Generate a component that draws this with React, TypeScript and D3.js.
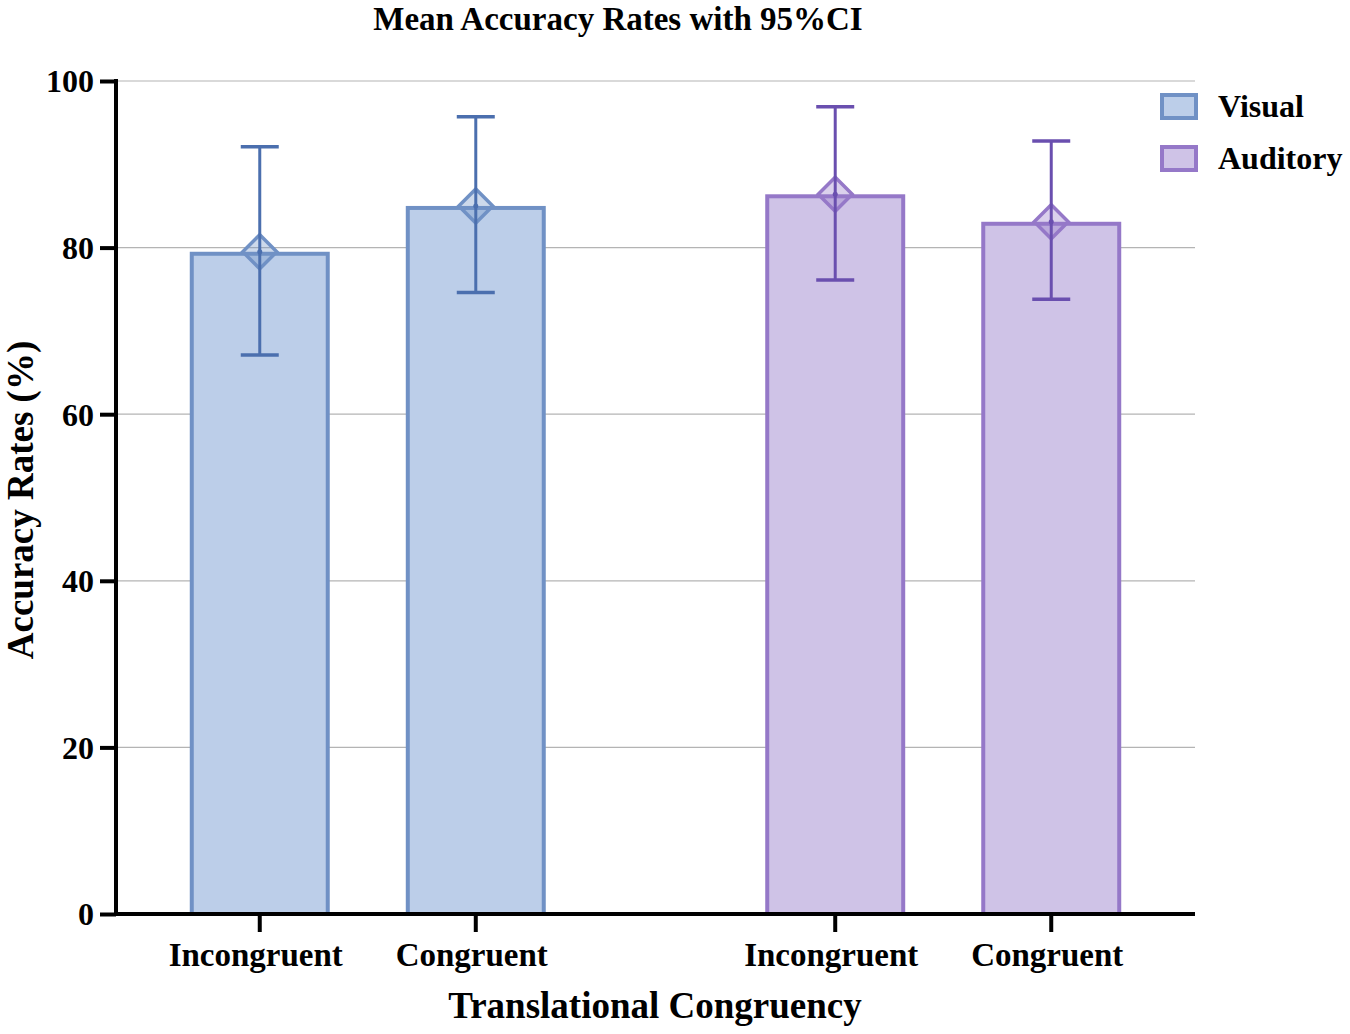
import { useEffect, useRef } from "react";
import * as d3 from "d3";

// modality groups and conditions along the x axis
const modalities = ["Visual", "Auditory"];
const conditions = ["Incongruent", "Congruent"];

// mean accuracy (%) per modality, in the order of `conditions`
const visualMeans = [79.5, 85.0];
const auditoryMeans = [86.4, 83.1];

// 95% CI bounds, same order
const visualLower = [67.1, 74.6];
const visualUpper = [92.1, 95.7];
const auditoryLower = [76.1, 73.8];
const auditoryUpper = [96.9, 92.8];

const yTicks = [0, 20, 40, 60, 80, 100];

const palette: Record<string, { fill: string; stroke: string; err: string }> = {
  Visual: { fill: "#bccee9", stroke: "#7091c5", err: "#4b6fae" },
  Auditory: { fill: "#cfc3e7", stroke: "#9578c8", err: "#6a4faf" },
};

const W = 1350;
const H = 1034;
const serif = "'Liberation Serif', 'Times New Roman', serif";

export default function App() {
  const svgRef = useRef<SVGSVGElement>(null);

  useEffect(() => {
    if (!svgRef.current) return;
    const svg = d3.select(svgRef.current);
    svg.selectAll("*").remove();

    const left = 116;
    const right = 1195;
    const top = 81;
    const bottom = 914;

    const x0 = d3
      .scaleBand<string>()
      .domain(modalities)
      .range([left, right])
      .paddingInner(0.25)
      .paddingOuter(0.0625);

    const x1 = d3
      .scaleBand<string>()
      .domain(conditions)
      .range([0, x0.bandwidth()])
      .paddingInner(0.352)
      .paddingOuter(0.175);

    const y = d3.scaleLinear().domain([0, 100]).range([bottom, top]);

    const rows = modalities.flatMap((m) => {
      const means = m === "Visual" ? visualMeans : auditoryMeans;
      const lo = m === "Visual" ? visualLower : auditoryLower;
      const hi = m === "Visual" ? visualUpper : auditoryUpper;
      return conditions.map((c, i) => ({
        modality: m,
        condition: c,
        mean: means[i],
        lo: lo[i],
        hi: hi[i],
        x: (x0(m) ?? 0) + (x1(c) ?? 0),
      }));
    });

    // gridlines
    svg
      .append("g")
      .selectAll("line")
      .data(yTicks.filter((t) => t > 0))
      .join("line")
      .attr("x1", left)
      .attr("x2", right)
      .attr("y1", (d) => y(d))
      .attr("y2", (d) => y(d))
      .attr("stroke", "#b4b4b4")
      .attr("stroke-width", 1.2);

    // bars (stroke drawn inside the bar outline)
    const sw = 4;
    svg
      .append("g")
      .selectAll("rect")
      .data(rows)
      .join("rect")
      .attr("x", (d) => d.x + sw / 2)
      .attr("y", (d) => y(d.mean) + sw / 2)
      .attr("width", x1.bandwidth() - sw)
      .attr("height", (d) => bottom - y(d.mean) - sw / 2)
      .attr("fill", (d) => palette[d.modality].fill)
      .attr("stroke", (d) => palette[d.modality].stroke)
      .attr("stroke-width", sw);

    // mean diamonds + CI whiskers
    const half = x1.bandwidth() / 2;
    const capW = 19;
    const err = svg.append("g");
    const dia = 17;
    err
      .selectAll("path.dia")
      .data(rows)
      .join("path")
      .attr("class", "dia")
      .attr("d", (d) => {
        const cx = d.x + half;
        const cy = y(d.mean);
        return `M${cx},${cy - dia}L${cx + dia},${cy}L${cx},${cy + dia}L${cx - dia},${cy}Z`;
      })
      .attr("fill", (d) => palette[d.modality].stroke)
      .attr("fill-opacity", 0.35)
      .attr("stroke", (d) => palette[d.modality].stroke)
      .attr("stroke-width", 3.5);

    err
      .selectAll("line.v")
      .data(rows)
      .join("line")
      .attr("class", "v")
      .attr("x1", (d) => d.x + half)
      .attr("x2", (d) => d.x + half)
      .attr("y1", (d) => y(d.lo))
      .attr("y2", (d) => y(d.hi))
      .attr("stroke", (d) => palette[d.modality].err)
      .attr("stroke-width", 3);

    err
      .selectAll("line.cap")
      .data(rows.flatMap((d) => [{ ...d, v: d.lo }, { ...d, v: d.hi }]))
      .join("line")
      .attr("class", "cap")
      .attr("x1", (d) => d.x + half - capW)
      .attr("x2", (d) => d.x + half + capW)
      .attr("y1", (d) => y(d.v))
      .attr("y2", (d) => y(d.v))
      .attr("stroke", (d) => palette[d.modality].err)
      .attr("stroke-width", 3.5);

    err
      .selectAll("circle")
      .data(rows)
      .join("circle")
      .attr("cx", (d) => d.x + half)
      .attr("cy", (d) => y(d.mean))
      .attr("r", 2.5)
      .attr("fill", (d) => palette[d.modality].err);

    // y axis
    const yAxis = svg
      .append("g")
      .attr("transform", `translate(${left},0)`)
      .call(d3.axisLeft(y).tickValues(yTicks).tickSize(16).tickPadding(6).tickFormat(d3.format("d")));
    yAxis.select(".domain").attr("stroke-width", 4).attr("d", `M0,${top - 2}V${bottom + 2}`);
    yAxis.selectAll(".tick line").attr("stroke-width", 4);
    yAxis
      .selectAll(".tick text")
      .attr("dy", "0.34em")
      .style("font-family", serif)
      .style("font-weight", "bold")
      .style("font-size", "32px")
      .attr("fill", "#000");

    // x axis
    const xAxis = svg.append("g").attr("transform", `translate(0,${bottom})`);
    xAxis
      .append("line")
      .attr("x1", left - 2)
      .attr("x2", right)
      .attr("stroke", "#000")
      .attr("stroke-width", 4);
    xAxis
      .selectAll("line.tick")
      .data(rows)
      .join("line")
      .attr("class", "tick")
      .attr("x1", (d) => d.x + half)
      .attr("x2", (d) => d.x + half)
      .attr("y1", 0)
      .attr("y2", 18)
      .attr("stroke", "#000")
      .attr("stroke-width", 4);
    xAxis
      .selectAll("text")
      .data(rows)
      .join("text")
      .attr("x", (d) => d.x + half - 4)
      .attr("y", 52)
      .attr("text-anchor", "middle")
      .style("font-family", serif)
      .style("font-weight", "bold")
      .style("font-size", "33px")
      .text((d) => d.condition);

    // titles
    const label = (txt: string, size: number) =>
      svg
        .append("text")
        .attr("text-anchor", "middle")
        .style("font-family", serif)
        .style("font-weight", "bold")
        .style("font-size", `${size}px`)
        .text(txt);

    label("Mean Accuracy Rates with 95%CI", 33).attr("x", 618).attr("y", 30);
    label("Translational Congruency", 37).attr("x", 655).attr("y", 1018);
    label("Accuracy Rates (%)", 37).attr("transform", "translate(33,500) rotate(-90)");

    // legend
    const lg = svg
      .append("g")
      .selectAll("g")
      .data(modalities)
      .join("g")
      .attr("transform", (_d, i) => `translate(1160,${93 + i * 52})`);
    lg.append("rect")
      .attr("x", 2)
      .attr("y", 2)
      .attr("width", 34)
      .attr("height", 23)
      .attr("fill", (d) => palette[d].fill)
      .attr("stroke", (d) => palette[d].stroke)
      .attr("stroke-width", 4);
    lg.append("text")
      .attr("x", 58)
      .attr("y", 24)
      .style("font-family", serif)
      .style("font-weight", "bold")
      .style("font-size", "32px")
      .text((d) => d);
  }, []);

  return (
    <svg
      ref={svgRef}
      width={W}
      height={H}
      style={{ position: "absolute", left: 0, top: 0, background: "#fff" }}
    />
  );
}
